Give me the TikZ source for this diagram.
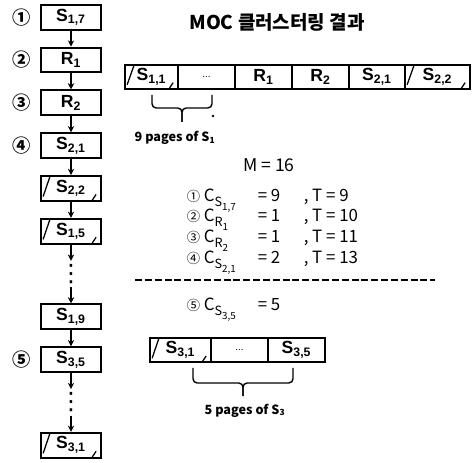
\documentclass[tikz,border=0pt]{standalone}
\usepackage{fontspec}
\setmainfont{Liberation Sans}
\newfontfamily\kor{Noto Sans CJK KR}
\newfontfamily\sym{DejaVu Sans}
\usetikzlibrary{arrows.meta}

% page with subscript, e.g. \pg{S}{1,7}
\newcommand{\pg}[2]{#1\textsubscript{#2}}
% cost of a page: C with a page name below it
\newcommand{\cost}[2]{C\raisebox{-3.5pt}{\fontsize{9}{9}\selectfont #1\raisebox{-2.5pt}{\fontsize{7}{7}\selectfont #2}}}
% circled step number inside the cost lines
\newcommand{\stp}[1]{{\fontsize{9.5}{9.5}\selectfont #1}}

\tikzset{
	page/.style={draw, line width=1.3pt, minimum width=1.5cm, minimum height=0.62cm,
		inner sep=0pt, font=\bfseries\fontsize{12.5}{12.5}\selectfont},
	% page that continues from / into a neighbour
	part/.style={page, path picture={
		\draw[line width=0.9pt] ([shift={(1.5pt,3pt)}]path picture bounding box.south west)
			-- ([xshift=6.5pt]path picture bounding box.north west);
		\draw[line width=0.9pt] ([xshift=-6.5pt]path picture bounding box.south east)
			-- ([shift={(-3.5pt,4.5pt)}]path picture bounding box.south east);
	}},
	num/.style={font=\kor\bfseries\fontsize{13}{13}\selectfont},
	eq/.style={anchor=base west, inner sep=0pt, font=\kor\fontsize{12}{12}\selectfont},
	brc/.style={line width=1pt, rounded corners=3pt},
	gap/.style={inner sep=2pt, font=\sym\fontsize{17}{17}\selectfont},
}

\begin{document}
\begin{tikzpicture}[>={Stealth[length=4.5pt, width=4.5pt]}, line width=1.1pt]
	\useasboundingbox (0, 0) rectangle (11.9, 11.55);

	% access order
	\node[page] (s17) at (1.775, 11.12) {\pg{S}{1,7}};
	\node[page] (r1) at (1.775, 10.05) {\pg{R}{1}};
	\node[page] (r2) at (1.775, 8.98) {\pg{R}{2}};
	\node[page] (s21) at (1.775, 7.91) {\pg{S}{2,1}};
	\node[part] (s22) at (1.775, 6.84) {\pg{S}{2,2}};
	\node[part] (s15) at (1.775, 5.77) {\pg{S}{1,5}};
	\node[gap] (gapa) at (1.775, 4.70) {⋮};
	\node[page] (s19) at (1.775, 3.63) {\pg{S}{1,9}};
	\node[page] (s35) at (1.775, 2.56) {\pg{S}{3,5}};
	\node[gap] (gapb) at (1.775, 1.49) {⋮};
	\node[part] (s31) at (1.775, 0.42) {\pg{S}{3,1}};

	\node[num] (n1) at (0.55, 11.12) {①};
	\node[num] (n2) at (0.55, 10.05) {②};
	\node[num] (n3) at (0.55, 8.98) {③};
	\node[num] (n4) at (0.55, 7.91) {④};
	\node[num] (n5) at (0.55, 2.56) {⑤};

	\draw[->] (s17) -- (r1);
	\draw[->] (r1) -- (r2);
	\draw[->] (r2) -- (s21);
	\draw[->] (s21) -- (s22);
	\draw[->] (s22) -- (s15);
	\draw[->] (s15) -- (gapa);
	\draw[->] (gapa) -- (s19);
	\draw[->] (s19) -- (s35);
	\draw[->] (s35) -- (gapb);
	\draw[->] (gapb) -- (s31);

	% clustered pages
	\node[anchor=base, font=\kor\bfseries\fontsize{13.5}{13.5}\selectfont] (title) at (6.925, 10.8) {MOC 클러스터링 결과};

	\node[part, minimum width=1.325cm, minimum height=0.6cm] (c1) at (3.7875, 9.625) {\pg{S}{1,1}};
	\node[page, minimum width=1.425cm, minimum height=0.6cm, font=\fontsize{7}{7}\selectfont] (c2) at (5.1625, 9.625) {...};
	\node[page, minimum width=1.425cm, minimum height=0.6cm] (c3) at (6.5875, 9.625) {\pg{R}{1}};
	\node[page, minimum width=1.425cm, minimum height=0.6cm] (c4) at (8.0125, 9.625) {\pg{R}{2}};
	\node[page, minimum width=1.4cm, minimum height=0.6cm] (c5) at (9.425, 9.625) {\pg{S}{2,1}};
	\node[part, minimum width=1.625cm, minimum height=0.6cm] (c6) at (10.9375, 9.625) {\pg{S}{2,2}};

	\draw[brc] (3.8, 9.175) -- (3.8, 8.85) -- (4.55, 8.85) -- (4.55, 8.5);
	\draw[brc] (5.3, 9.175) -- (5.3, 8.85) -- (4.55, 8.85) -- (4.55, 8.5);
	\fill (5.325, 8.65) circle (0.9pt);
	\node[anchor=base, font=\kor\bfseries\fontsize{9}{9}\selectfont] (pages1) at (4.375, 8.0) {9 pages of \pg{S}{1}};

	% costs
	\node[anchor=base, font=\kor\fontsize{12.5}{12.5}\selectfont] (m) at (6.725, 7.25) {M = 16};

	\node[eq] (e1) at (4.65, 6.5) {\stp{①} \cost{S}{1,7}};
	\node[eq] (v1) at (6.425, 6.5) {= 9};
	\node[eq] (t1) at (7.575, 6.5) {, T = 9};
	\node[eq] (e2) at (4.65, 6.0) {\stp{②} \cost{R}{1}};
	\node[eq] (v2) at (6.425, 6.0) {= 1};
	\node[eq] (t2) at (7.575, 6.0) {, T = 10};
	\node[eq] (e3) at (4.65, 5.475) {\stp{③} \cost{R}{2}};
	\node[eq] (v3) at (6.425, 5.475) {= 1};
	\node[eq] (t3) at (7.575, 5.475) {, T = 11};
	\node[eq] (e4) at (4.65, 4.95) {\stp{④} \cost{S}{2,1}};
	\node[eq] (v4) at (6.425, 4.95) {= 2};
	\node[eq] (t4) at (7.575, 4.95) {, T = 13};

	\draw[line width=1.4pt, dash pattern=on 5pt off 2pt] (3.375, 4.55) -- (10.875, 4.55);

	\node[eq] (e5) at (4.65, 3.775) {\stp{⑤} \cost{S}{3,5}};
	\node[eq] (v5) at (6.425, 3.775) {= 5};

	\node[part, minimum width=1.525cm] (d1) at (4.5125, 2.8) {\pg{S}{3,1}};
	\node[page, minimum width=1.425cm, font=\fontsize{7}{7}\selectfont] (d2) at (5.9875, 2.8) {...};
	\node[page, minimum width=1.425cm] (d3) at (7.4125, 2.8) {\pg{S}{3,5}};

	\draw[brc] (4.825, 2.35) -- (4.825, 1.975) -- (6.075, 1.975) -- (6.075, 1.65);
	\draw[brc] (7.325, 2.35) -- (7.325, 1.975) -- (6.075, 1.975) -- (6.075, 1.65);
	\node[anchor=base, font=\kor\bfseries\fontsize{9}{9}\selectfont] (pages3) at (6.125, 1.2) {5 pages of \pg{S}{3}};
\end{tikzpicture}
\end{document}
